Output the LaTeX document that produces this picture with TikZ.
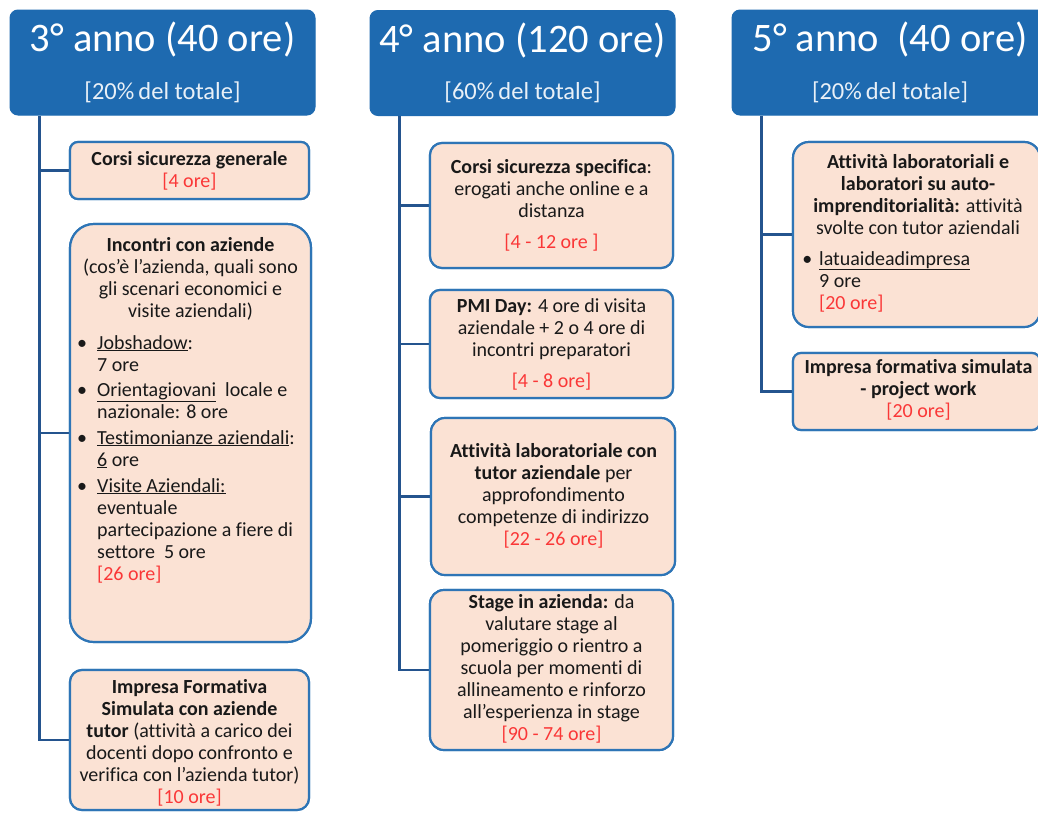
\documentclass[tikz,border=0pt]{standalone}
\usepackage{fontspec}
\setmainfont{Carlito}[Ligatures=NoCommon]
\definecolor{hdr}{RGB}{30,106,176}
\definecolor{peach}{RGB}{251,226,212}
\definecolor{bord}{RGB}{46,117,182}
\definecolor{treec}{RGB}{36,84,142}
\definecolor{redt}{RGB}{250,55,55}
\definecolor{ink}{RGB}{25,25,25}
\newcommand{\hrs}[1]{\textcolor{redt}{#1}}
\newcommand{\bulA}{\llap{•\hspace{10pt}}}
\newcommand{\bulB}{\llap{•\hspace{7pt}}}
\begin{document}
\begin{tikzpicture}[x=1pt,y=-1pt,
  hdrbox/.style={draw=hdr, fill=hdr, rounded corners=8pt, inner sep=0pt, line width=1pt},
  actbox/.style={draw=bord, fill=peach, line width=2.2pt, inner sep=0pt},
  treeline/.style={draw=treec, line width=2.6pt},
  ttl/.style={text=white, inner sep=0pt, anchor=base, font=\fontsize{40.5}{48}\selectfont},
  sub/.style={text=white!90!hdr, inner sep=0pt, anchor=base, font=\fontsize{24.5}{28}\selectfont},
  txt/.style={text=ink, inner sep=0pt, anchor=base, align=center, font=\fontsize{20}{22}\selectfont},
  lst/.style={text=ink, inner sep=0pt, anchor=base west, align=left, font=\fontsize{20}{22}\selectfont},
]
\useasboundingbox (0,0) rectangle (1038,812);
\clip (0,0) rectangle (1038,812);

% headers
\node[hdrbox, minimum width=305pt, minimum height=105pt] (h1) at (162.5,62.5) {};
\node[hdrbox, minimum width=305pt, minimum height=105pt] (h2) at (522.5,63) {};
\node[hdrbox, minimum width=316pt, minimum height=105pt] (h3) at (890,62.5) {};
\node[ttl] (h1a) at (162.5,51) {3° anno (40 ore)};
\node[sub] (h1b) at (162.5,99) {[20\%\,del totale]};
\node[ttl] (h2a) at (522.5,52) {4° anno (120 ore)};
\node[sub] (h2b) at (522.5,99) {[60\%\,del totale]};
\node[ttl] (h3a) at (890,51) {5° anno\ \ (40 ore)};
\node[sub] (h3b) at (890,99) {[20\%\,del totale]};

% activity boxes
\node[actbox, rounded corners=8pt, minimum width=239pt, minimum height=57pt] (b1) at (189.5,170.5) {};
\node[actbox, rounded corners=24pt, minimum width=241pt, minimum height=418pt] (b2) at (190.5,433) {};
\node[actbox, rounded corners=12pt, minimum width=239pt, minimum height=140pt] (b3) at (189.5,740) {};
\node[actbox, rounded corners=12pt, minimum width=243pt, minimum height=125pt] (b4a) at (551.5,205.5) {};
\node[actbox, rounded corners=10pt, minimum width=243pt, minimum height=108pt] (b4b) at (551.5,344) {};
\node[actbox, rounded corners=14pt, minimum width=244pt, minimum height=157pt] (b4c) at (553,496.5) {};
\node[actbox, rounded corners=14pt, minimum width=243pt, minimum height=160pt] (b4d) at (551.5,670) {};
\node[actbox, rounded corners=16pt, minimum width=247pt, minimum height=185pt] (b5a) at (916.5,234.5) {};
\node[actbox, rounded corners=8pt, minimum width=247pt, minimum height=77pt] (b5b) at (916.5,391.5) {};

% tree connectors
\coordinate (r1) at ([xshift=30pt]h1.south west);
\coordinate (r2) at ([xshift=30pt]h2.south west);
\coordinate (r3) at ([xshift=30pt]h3.south west);
\draw[treeline] (r1) |- (b3.west);
\draw[treeline] (r1 |- b1.west) -- (b1.west);
\draw[treeline] (r1 |- b2.west) -- (b2.west);
\draw[treeline] (r2) |- (b4d.west);
\draw[treeline] (r2 |- b4a.west) -- (b4a.west);
\draw[treeline] (r2 |- b4b.west) -- (b4b.west);
\draw[treeline] (r2 |- b4c.west) -- (b4c.west);
\draw[treeline] (r3) |- (b5b.west);
\draw[treeline] (r3 |- b5a.west) -- (b5a.west);

% redraw boxes over connector ends
\node[actbox, rounded corners=8pt, minimum width=239pt, minimum height=57pt] at (b1) {};
\node[actbox, rounded corners=24pt, minimum width=241pt, minimum height=418pt] at (b2) {};
\node[actbox, rounded corners=12pt, minimum width=239pt, minimum height=140pt] at (b3) {};
\node[actbox, rounded corners=12pt, minimum width=243pt, minimum height=125pt] at (b4a) {};
\node[actbox, rounded corners=10pt, minimum width=243pt, minimum height=108pt] at (b4b) {};
\node[actbox, rounded corners=14pt, minimum width=244pt, minimum height=157pt] at (b4c) {};
\node[actbox, rounded corners=14pt, minimum width=243pt, minimum height=160pt] at (b4d) {};
\node[actbox, rounded corners=16pt, minimum width=247pt, minimum height=185pt] at (b5a) {};
\node[actbox, rounded corners=8pt, minimum width=247pt, minimum height=77pt] at (b5b) {};

% texts (anchor = baseline of last line)
\node[txt] (b1t) at (189.5,187) {\textbf{Corsi sicurezza generale}\\\hrs{[4 ore]}};
\node[txt] (b2t) at (190.5,317) {\textbf{Incontri con aziende}\\(cos’è l’azienda,\ quali sono\\gli scenari economici e\\visite aziendali)};
\node[lst] (b2l) at (97,580) {\bulA\underline{Jobshadow}:\\7 ore\\[3.5pt]\bulA\underline{Orientagiovani}\ \ locale e\\nazionale: 8 ore\\[3.5pt]\bulA\underline{Testimonianze aziendali}:\\\underline{6} ore\\[4pt]\bulA\underline{Visite Aziendali:}\\eventuale\\partecipazione a fiere di\\settore\ \ 5 ore\\\hrs{[26 ore]}};
\node[txt] (b3t) at (189.5,803) {\textbf{Impresa Formativa}\\\textbf{Simulata con aziende}\\\textbf{tutor} (attività a carico dei\\docenti dopo confronto e\\verifica con l’azienda tutor)\\\hrs{[10 ore]}};
\node[txt] (b4at) at (551.5,248) {\textbf{Corsi sicurezza specifica}:\\erogati anche online e a\\distanza\\[9pt]\hrs{[4 - 12 ore ]}};
\node[txt] (b4bt) at (551.5,387) {\textbf{PMI Day:} 4 ore di visita\\aziendale + 2 o 4 ore di\\incontri preparatori\\[9pt]\hrs{[4 - 8 ore]}};
\node[txt] (b4ct) at (553.5,545) {\textbf{Attività laboratoriale con}\\\textbf{tutor aziendale} per\\approfondimento\\competenze di indirizzo\\\hrs{[22 - 26 ore]}};
\node[txt] (b4dt) at (551.5,740) {\textbf{Stage in azienda:} da\\valutare stage al\\pomeriggio o rientro a\\scuola per momenti di\\allineamento e rinforzo\\all’esperienza\ in stage\\\hrs{[90 - 74 ore]}};
\node[txt] (b5at) at (918,234) {\textbf{Attività laboratoriali e}\\\textbf{laboratori su auto-}\\\textbf{imprenditorialità:} attività\\svolte con tutor aziendali};
\node[lst] (b5al) at (819,309) {\bulB\underline{latuaideadimpresa}\\9 ore\\\hrs{[20 ore]}};
\node[txt] (b5bt) at (918.5,417) {\textbf{Impresa formativa simulata}\\\textbf{- project work}\\\hrs{[20 ore]}};
\end{tikzpicture}
\end{document}
